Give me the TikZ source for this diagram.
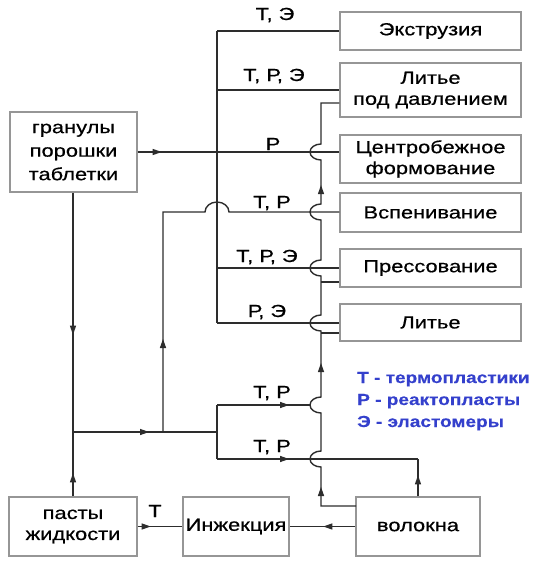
\documentclass[tikz,border=0pt]{standalone}
\usepackage{fontspec}
\setmainfont{Liberation Sans}
\newfontfamily\boxfont[FakeStretch=1.25, FakeBold=0.6]{Liberation Sans}
\newfontfamily\legendfont[FakeStretch=1.19, FakeBold=0.4]{Liberation Sans Bold}
\usetikzlibrary{decorations.markings}

\definecolor{legendBlue}{RGB}{52,64,204}
\definecolor{lineGray}{RGB}{45,45,45}
\definecolor{boxGray}{RGB}{150,150,150}

\begin{document}
\begin{tikzpicture}[
        x=1pt, y=-1pt,
        every node/.style={font=\boxfont\fontsize{17.5}{21}\selectfont},
        procBox/.style={draw=boxGray, line width=1.3pt, minimum width=181pt, inner sep=0pt, align=center},
        srcBox/.style={draw=boxGray, line width=1.3pt, inner sep=0pt, align=center},
        flowLine/.style={lineGray, line width=1.4pt},
        tipAt/.style={postaction={decorate, decoration={markings,
            mark=at position #1 with {\fill[lineGray] (1pt,0pt) -- (-8pt,3.2pt) -- (-8pt,-3.2pt) -- cycle;}}}},
        mixLabel/.style={anchor=base},
        legendText/.style={anchor=base west, inner sep=0pt, text=legendBlue,
            font=\legendfont\fontsize{16}{20}\selectfont}
    ]
        \useasboundingbox (0,0) rectangle (546,576);

        % processes on the right
        \node[procBox, minimum height=38pt] (extr) at (430.5,31) {Экструзия};
        \node[procBox, minimum height=54pt] (lpd) at (430.5,90) {Литье\\под давлением};
        \node[procBox, minimum height=48pt] (centr) at (430.5,159) {Центробежное\\формование};
        \node[procBox, minimum height=39pt] (vspen) at (430.5,212.5) {Вспенивание};
        \node[procBox, minimum height=38pt] (press) at (430.5,268) {Прессование};
        \node[procBox, minimum height=37pt] (lit) at (430.5,322.5) {Литье};

        % raw material forms
        \node[srcBox, minimum width=127pt, minimum height=80pt,
            font=\boxfont\fontsize{17.5}{23.5}\selectfont] (gran) at (73.5,152) {гранулы\\порошки\\таблетки};
        \node[srcBox, minimum width=128pt, minimum height=59pt] (pasty) at (73,526.5) {пасты\\жидкости};
        \node[srcBox, minimum width=106pt, minimum height=59pt] (inj) at (236,526.5) {Инжекция};
        \node[srcBox, minimum width=124pt, minimum height=59pt] (volok) at (418,526.5) {волокна};

        % junctions
        \coordinate (busTop) at (217,31);
        \coordinate (busLpd) at (217,90);
        \coordinate (jGran) at (217,152);
        \coordinate (busPress) at (217,268);
        \coordinate (busBot) at (217,323);
        \coordinate (jLeft) at (73,432);
        \coordinate (jMid) at (163,432);
        \coordinate (jRight) at (217,432);
        \coordinate (jVsp) at (163,212);
        \coordinate (feedA) at (217,405);
        \coordinate (feedB) at (217,459);
        \coordinate (feedEnd) at (310,405);
        \coordinate (fibCorner) at (418,459);
        \coordinate (fibStart) at (356,506);
        \coordinate (fibTop) at (321,103);
        \coordinate (stubP) at (321,282);
        \coordinate (stubL) at (321,333);

        % main bus from the granules
        \draw[flowLine] (busTop) -- (busBot);
        \draw[flowLine] (busTop) -- (extr.west);
        \draw[flowLine] (busLpd) -- (lpd.west);
        \draw[flowLine, tipAt=23pt] (gran.east) -- (jGran) -- (jGran -| centr.west);
        \draw[flowLine] (busPress) -- (press.west);
        \draw[flowLine] (busBot) -- (busBot -| lit.west);

        % left collector and the pastes
        \draw[flowLine, tipAt=141pt] (jLeft |- gran.south) -- (jLeft);
        \draw[flowLine, tipAt=22pt] (jLeft |- pasty.north) -- (jLeft);
        \draw[flowLine, tipAt=75pt] (jLeft) -- (jRight);
        \draw[flowLine, tipAt=92pt] (jMid) -- (jVsp) -- (205,212)
            arc[start angle=180, end angle=360, x radius=12, y radius=10] -- (jVsp -| vspen.west);
        \draw[flowLine] (feedA) -- (feedB);
        \draw[flowLine, tipAt=71pt] (feedA) -- (feedEnd);
        \draw[flowLine, tipAt=71pt] (feedB) -- (fibCorner);
        \draw[flowLine, tipAt=20pt] (volok.north -| fibCorner) -- (fibCorner);

        % fibres line, hopping over the crossings
        \draw[flowLine, tipAt=53pt, tipAt=205pt, tipAt=425pt] (fibStart) -- (321,506) -- (321,467)
            arc[start angle=90, end angle=270, x radius=11, y radius=8] -- (321,413)
            arc[start angle=90, end angle=270, x radius=11, y radius=8] -- (321,331)
            arc[start angle=90, end angle=270, x radius=11, y radius=8] -- (321,276)
            arc[start angle=90, end angle=270, x radius=11, y radius=8] -- (321,220)
            arc[start angle=90, end angle=270, x radius=11, y radius=8] -- (321,160)
            arc[start angle=90, end angle=270, x radius=11, y radius=8] -- (fibTop)
            -- (fibTop -| lpd.west);
        \draw[flowLine] (stubP) -- (stubP -| press.west);
        \draw[flowLine] (stubL) -- (stubL -| lit.west);

        % injection
        \draw[flowLine, tipAt=12pt] (pasty.east) -- (inj.west);
        \draw[flowLine, tipAt=31pt] (volok.west) -- (inj.east);

        % polymer classes on the branches
        \node[mixLabel] (labExtr) at (275,20) {Т, Э};
        \node[mixLabel] (labLpd) at (274,81) {Т, Р, Э};
        \node[mixLabel] (labCentr) at (273,150) {Р};
        \node[mixLabel] (labVsp) at (272,208) {Т, Р};
        \node[mixLabel] (labPress) at (267,262) {Т, Р, Э};
        \node[mixLabel] (labLit) at (267,317) {Р, Э};
        \node[mixLabel] (labFeedA) at (272,398) {Т, Р};
        \node[mixLabel] (labFeedB) at (272,452) {Т, Р};
        \node[mixLabel] (labInj) at (155,517) {Т};

        % legend
        \node[legendText] (legT) at (357,383) {Т - термопластики};
        \node[legendText] (legR) at (357,405) {Р - реактопласты};
        \node[legendText] (legE) at (357,427) {Э - эластомеры};
    \end{tikzpicture}
\end{document}
